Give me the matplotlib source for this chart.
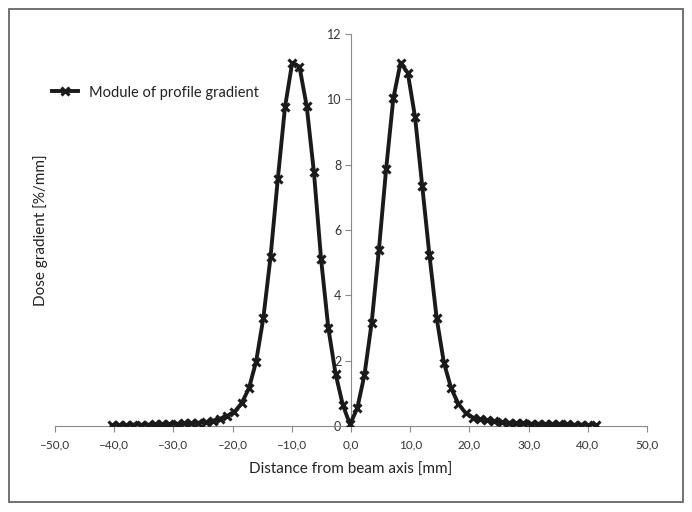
import matplotlib
matplotlib.use("Agg")
from matplotlib import pyplot as plt
from matplotlib.patches import Rectangle

plt.rcParams['font.family'] = ['Lato', 'DejaVu Sans']

# distance from beam axis [mm] and dose gradient [%/mm]
dist = [-40.43, -39.21, -37.99, -36.77, -35.55, -34.33, -33.11, -31.89, -30.67,
        -29.45, -28.23, -27.01, -25.79, -24.57, -23.35, -22.13, -20.91, -19.69,
        -18.47, -17.25, -16.03, -14.81, -13.59, -12.37, -11.15, -9.93, -8.71,
        -7.49, -6.27, -5.05, -3.83, -2.61, -1.39,
        -0.17,
        1.05, 2.27, 3.49, 4.71, 5.93, 7.15, 8.37, 9.59, 10.81,
        12.03, 13.25, 14.47, 15.69, 16.91, 18.13, 19.35, 20.57, 21.79,
        23.01, 24.23, 25.45, 26.67, 27.89, 29.11, 30.33, 31.55, 32.77,
        33.99, 35.21, 36.43, 37.65, 38.87, 40.09, 41.31]
grad = [0.03, 0.03, 0.03, 0.04, 0.04, 0.04, 0.05, 0.05, 0.06,
        0.07, 0.08, 0.09, 0.10, 0.12, 0.16, 0.22, 0.31, 0.43,
        0.70, 1.15, 1.97, 3.30, 5.18, 7.55, 9.76, 11.12, 11.00,
        9.80, 7.78, 5.10, 3.00, 1.60, 0.65,
        0.05,
        0.54, 1.56, 3.16, 5.39, 7.86, 10.03, 11.12, 10.81, 9.47,
        7.35, 5.23, 3.30, 1.94, 1.16, 0.68, 0.40, 0.26, 0.20,
        0.18, 0.15, 0.11, 0.10, 0.09, 0.08, 0.07, 0.07, 0.06,
        0.06, 0.05, 0.05, 0.04, 0.04, 0.03, 0.03]
x_ticks = [-50, -40, -30, -20, -10, 0, 10, 20, 30, 40, 50]
y_ticks = [0, 2, 4, 6, 8, 10, 12]

fig = plt.figure(figsize=(6.92, 5.12), dpi=100)
ax = fig.add_axes([55 / 692, 86 / 512, 592 / 692, 392 / 512])

ax.plot(dist, grad, color='#1a1a1a', lw=2.8, marker='x', markersize=5.5,
        mew=2.2, mec='#1a1a1a', label='Module of profile gradient', zorder=3)

ax.set_xlim(-50, 50)
ax.set_ylim(0, 12)
ax.set_xticks(x_ticks)
ax.set_xticklabels([('%.1f' % v).replace('.', ',').replace('-', '\u2013') for v in x_ticks])
ax.set_yticks(y_ticks)
ax.set_yticklabels([str(v) for v in y_ticks])

for s in ['top', 'right']:
    ax.spines[s].set_visible(False)
ax.spines['left'].set_position(('data', 0))
ax.spines['left'].set_color('#8a8a8a')
ax.spines['bottom'].set_color('#8a8a8a')
ax.tick_params(axis='both', colors='#8a8a8a', labelcolor='#333333', labelsize=8.5,
               length=4, width=0.8, direction='out')
ax.tick_params(axis='y', labelsize=9, pad=3)
ax.tick_params(axis='x', pad=6)

fig.text(351 / 692, 1 - 470 / 512, 'Distance from beam axis [mm]', ha='center',
         va='center', fontsize=11, color='#222222')
fig.text(41 / 692, 1 - 230 / 512, 'Dose gradient [%/mm]', ha='center',
         va='center', rotation=90, fontsize=11, color='#222222')

ax.legend(loc='upper left', bbox_to_anchor=(-0.027, 0.902), frameon=False,
          fontsize=10.5, handlelength=1.8, handletextpad=0.7, labelcolor='#222222')

fig.patches.append(Rectangle((8.5 / 692, 1 - 501.5 / 512), 674 / 692, 493 / 512,
                             transform=fig.transFigure, fill=False,
                             edgecolor='#666666', lw=1.3))

plt.savefig('out.png', dpi=100)
